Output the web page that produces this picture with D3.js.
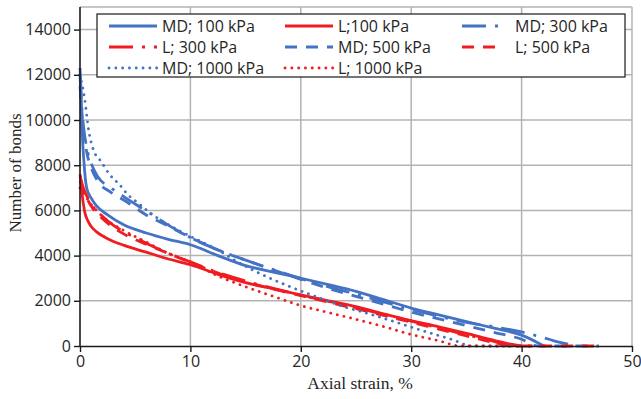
<!DOCTYPE html>
<html>
<head>
<meta charset="utf-8">
<script src="https://cdn.jsdelivr.net/npm/d3@7"></script>
<style>
  body { margin: 0; background: #fff; }
  svg { display: block; }
</style>
</head>
<body>
<div id="chart"></div>
<script>
// series data: [axial strain %, number of bonds]
const md100 = [[0,12300],[0.1,11200],[0.2,9500],[0.35,8200],[0.6,7000],[1,6550],[1.5,6200],[2.5,5800],[4,5350],[6,5000],[8,4720],[10,4480],[12.5,4000],[15,3560],[17.5,3270],[20,3000],[22.5,2720],[25,2420],[27.5,2050],[30,1680],[32.5,1380],[35,1080],[37.5,790],[40,480],[41,260],[42,0]];
const l100 = [[0,7600],[0.1,7300],[0.2,6700],[0.4,6000],[0.7,5550],[1,5300],[1.5,5050],[2.5,4750],[4,4450],[6,4150],[8,3850],[10,3600],[12.5,3170],[15,2800],[17.5,2530],[20,2260],[22.5,2000],[25,1740],[27.5,1420],[30,1120],[32.5,850],[35,560],[37.5,250],[39,80],[40,0]];
const md300 = [[0,12000],[0.1,11000],[0.3,9800],[0.6,8800],[1,8100],[1.6,7500],[2.8,7000],[4,6600],[5.1,6250],[6.3,5880],[8,5350],[10,4800],[12.5,4250],[15,3800],[17.5,3380],[20,2980],[22.5,2620],[25,2300],[27.5,1950],[30,1620],[32.5,1320],[35,1050],[37.5,850],[40,620],[41.7,410],[43,220],[45,0]];
const l300 = [[0,7500],[0.3,7000],[1,6300],[2,5750],[3,5350],[4,5050],[6,4550],[8,4100],[10,3720],[12.5,3250],[15,2870],[17.5,2550],[20,2250],[22.5,1980],[25,1700],[27.5,1400],[30,1100],[32.5,800],[35,500],[37.5,200],[39,0],[41,0]];
const md500 = [[0,11500],[0.1,10800],[0.3,9600],[0.6,8600],[1,7900],[1.6,7300],[2.8,6800],[4,6450],[6,5800],[8,5300],[10,4800],[12.5,4250],[15,3800],[17.5,3370],[20,2950],[22.5,2550],[25,2200],[27.5,1850],[30,1500],[32.5,1200],[35,900],[37.5,600],[40,300],[41.5,0],[47,0]];
const l500 = [[0,7300],[0.3,6900],[1,6200],[2,5650],[3,5250],[4,4950],[6,4500],[8,4100],[10,3700],[12.5,3230],[15,2850],[17.5,2520],[20,2230],[22.5,1940],[25,1650],[27.5,1350],[30,1050],[32.5,750],[35,450],[37.5,150],[39,0],[47,0]];
const md1000 = [[0,12000],[0.4,11000],[0.8,9500],[1.2,8700],[1.9,8170],[2.7,7580],[3.6,7130],[4.35,6690],[5.1,6390],[6.6,5800],[8.4,5260],[10,4850],[12.5,4250],[14.2,3740],[16.9,3070],[19,2630],[21.4,2180],[23.9,1740],[26,1450],[28,1150],[30.8,710],[33.8,270],[35.5,0],[40,0]];
const l1000 = [[0,7000],[0.3,6800],[0.8,6400],[1.5,6000],[2.5,5550],[4,5100],[6,4600],[8,4100],[10,3720],[12.5,3100],[15,2620],[17.5,2200],[20,1790],[22.5,1480],[25,1180],[27.5,860],[30,510],[32.5,230],[34.5,0],[40,0]];

const seriesNames = ["MD; 100 kPa", "L;100 kPa", "MD; 300 kPa", "L; 300 kPa",
                     "MD; 500 kPa", "L; 500 kPa", "MD; 1000 kPa", "L; 1000 kPa"];
const seriesData = [md100, l100, md300, l300, md500, l500, md1000, l1000];
const xTicks = [0, 10, 20, 30, 40, 50];
const yTicks = [0, 2000, 4000, 6000, 8000, 10000, 12000, 14000];

const blue = "#4472c4", red = "#f01c22";
// line styles per series: solid, dash-dot, dash, round dot
const styles = [
  { color: blue, dash: null, cap: "butt" },
  { color: red, dash: null, cap: "butt" },
  { color: blue, dash: "24 9 3 9", cap: "butt" },
  { color: red, dash: "24 9 3 9", cap: "butt" },
  { color: blue, dash: "12 9", cap: "butt" },
  { color: red, dash: "12 9", cap: "butt" },
  { color: blue, dash: "0.1 6.7", cap: "round" },
  { color: red, dash: "0.1 6.7", cap: "round" }
];

const W = 641, H = 399;
const plot = { left: 80, right: 632, top: 7, bottom: 346 };

const svg = d3.select("#chart").append("svg")
  .attr("width", W).attr("height", H);

const x = d3.scaleLinear().domain([0, 50]).range([plot.left, plot.right]);
const y = d3.scaleLinear().domain([0, 15000]).range([plot.bottom, plot.top]);

// grid
const grid = svg.append("g").attr("stroke", "#b3b3b3").attr("stroke-width", 1.5);
grid.selectAll(".hg").data(yTicks.slice(1).concat([15000])).enter().append("line")
  .attr("x1", plot.left).attr("x2", plot.right)
  .attr("y1", d => y(d)).attr("y2", d => y(d));
grid.selectAll(".vg").data(xTicks.slice(1)).enter().append("line")
  .attr("y1", plot.top).attr("y2", plot.bottom)
  .attr("x1", d => x(d)).attr("x2", d => x(d));

// curves
const line = d3.line()
  .x(d => x(d[0])).y(d => y(d[1]))
  .curve(d3.curveMonotoneX);

const curves = svg.append("g").attr("fill", "none");
seriesData.forEach((data, i) => {
  const st = styles[i];
  curves.append("path")
    .attr("d", line(data))
    .attr("stroke", st.color)
    .attr("stroke-width", 2.8)
    .attr("stroke-linecap", st.cap)
    .attr("stroke-linejoin", "round")
    .attr("stroke-dasharray", st.dash);
});

// axes
const tickFont = "'Open Sans', sans-serif";
const yAxis = svg.append("g")
  .attr("transform", `translate(${plot.left},0)`)
  .call(d3.axisLeft(y).tickValues(yTicks).tickFormat(d3.format("d"))
    .tickSize(6).tickPadding(3).tickSizeOuter(0));
const xAxis = svg.append("g")
  .attr("transform", `translate(0,${plot.bottom})`)
  .call(d3.axisBottom(x).tickValues(xTicks).tickFormat(d3.format("d"))
    .tickSize(6).tickPadding(4).tickSizeOuter(0));

[xAxis, yAxis].forEach(a => {
  a.select(".domain").attr("stroke", "#1a1a1a").attr("stroke-width", 1.6);
  a.selectAll(".tick line").attr("stroke", "#1a1a1a").attr("stroke-width", 1.4);
  a.selectAll(".tick text")
    .attr("fill", "#262626")
    .style("font-family", tickFont)
    .style("font-size", "16px");
});
yAxis.select(".domain").attr("d", `M0,${plot.bottom}V${plot.top}`);

// axis titles
svg.append("text")
  .attr("x", (plot.left + plot.right) / 2 + 4)
  .attr("y", 389)
  .attr("text-anchor", "middle")
  .style("font-family", "'Liberation Serif', 'Times New Roman', serif")
  .style("font-size", "17.5px")
  .attr("fill", "#262626")
  .text("Axial strain, %");

svg.append("text")
  .attr("transform", "translate(21,173) rotate(-90)")
  .attr("text-anchor", "middle")
  .style("font-family", "'Liberation Serif', 'Times New Roman', serif")
  .style("font-size", "17px")
  .attr("fill", "#262626")
  .text("Number of bonds");

// legend
const legend = svg.append("g");
legend.append("rect")
  .attr("x", 97).attr("y", 14).attr("width", 528).attr("height", 63)
  .attr("fill", "#fff").attr("stroke", "#1a1a1a").attr("stroke-width", 1.2);

const colX = [109, 285, 462];
const colLen = [48, 48, 42];
const textX = [162, 338, 515];
const rowY = [26, 47, 68];

seriesNames.forEach((name, i) => {
  const c = i % 3, r = Math.floor(i / 3);
  const st = styles[i];
  legend.append("line")
    .attr("x1", colX[c]).attr("x2", colX[c] + colLen[c])
    .attr("y1", rowY[r]).attr("y2", rowY[r])
    .attr("stroke", st.color)
    .attr("stroke-width", 2.8)
    .attr("stroke-linecap", st.cap)
    .attr("stroke-dasharray", st.dash);
  legend.append("text")
    .attr("x", textX[c]).attr("y", rowY[r])
    .attr("dy", "0.35em")
    .style("font-family", tickFont)
    .style("font-size", "16px")
    .attr("fill", "#262626")
    .text(name);
});
</script>
</body>
</html>
